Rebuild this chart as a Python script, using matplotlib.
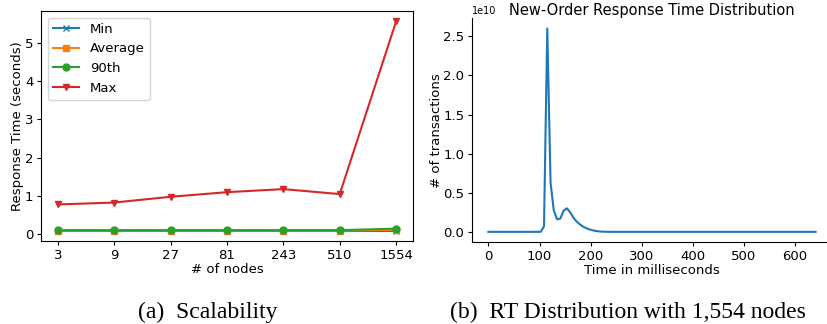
import matplotlib
matplotlib.use("Agg")
import matplotlib.pyplot as plt
import numpy as np

# ---- Data: panel (a) ----
nodes = ["3", "9", "27", "81", "243", "510", "1554"]
rt_min = [0.10, 0.10, 0.10, 0.10, 0.10, 0.10, 0.10]
rt_avg = [0.10, 0.10, 0.10, 0.10, 0.10, 0.10, 0.12]
rt_90 = [0.11, 0.11, 0.11, 0.11, 0.11, 0.11, 0.15]
rt_max = [0.78, 0.83, 0.98, 1.10, 1.18, 1.05, 5.55]

# ---- Data: panel (b) (counts in units of 1e10) ----
time_ms = [i * 6.4 for i in range(101)]
counts_e10 = ([0.0] * 16 +
              [0.0, 0.07, 2.60, 0.63, 0.27, 0.16, 0.17, 0.27, 0.30, 0.25,
               0.18, 0.13, 0.095, 0.065, 0.045, 0.03, 0.018, 0.01, 0.005,
               0.002, 0.001] +
              [0.0] * 64)

fig = plt.figure(figsize=(8.28, 3.24), dpi=100)

TICK = 9.5
LAB = 9.5

# Panel (a)
ax1 = fig.add_axes([41 / 828, 1 - 241 / 324, (413 - 41) / 828, (241 - 11) / 324])
x = np.arange(len(nodes))
ax1.plot(x, rt_min, marker="x", color="#1f77b4", label="Min", lw=1.5, ms=5)
ax1.plot(x, rt_avg, marker="s", color="#ff7f0e", label="Average", lw=1.5, ms=5)
ax1.plot(x, rt_90, marker="o", color="#2ca02c", label="90th", lw=1.5, ms=5)
ax1.plot(x, rt_max, marker="v", color="#d62728", label="Max", lw=1.5, ms=5)
ax1.set_xticks(x)
ax1.set_xticklabels(nodes)
ax1.set_xlabel("# of nodes", fontsize=LAB, labelpad=1)
ax1.set_ylabel("Response Time (seconds)", fontsize=LAB, labelpad=0.5)
ax1.tick_params(labelsize=TICK, length=3, pad=2.5)
ax1.legend(loc="upper left", fontsize=9.5)

# Panel (b)
ax2 = fig.add_axes([472 / 828, 1 - 242 / 324, (832 - 472) / 828, (242 - 18.3) / 324])
ax2.plot(time_ms, np.array(counts_e10) * 1e10, color="#1f77b4", lw=1.5)
ax2.set_title("New-Order Response Time Distribution", fontsize=10.5, pad=2)
ax2.set_xlabel("Time in milliseconds", fontsize=LAB, labelpad=1)
ax2.set_ylabel("# of transactions", fontsize=LAB, labelpad=0.5)
ax2.tick_params(labelsize=TICK, length=3, pad=2.5)
ax2.set_xticks([0, 100, 200, 300, 400, 500, 600])
ax2.set_yticks([0, 0.5e10, 1.0e10, 1.5e10, 2.0e10, 2.5e10])
ax2.spines["top"].set_visible(False)
ax2.spines["right"].set_visible(False)
ax2.yaxis.get_offset_text().set_fontsize(7)

# Captions
fig.text(208 / 828, 1 - 312 / 324, "(a)  Scalability", ha="center", va="center",
         fontsize=17, family="Liberation Serif")
fig.text(628 / 828, 1 - 312 / 324, "(b)  RT Distribution with 1,554 nodes", ha="center",
         va="center", fontsize=17, family="Liberation Serif")

fig.savefig("out.png", dpi=100)
